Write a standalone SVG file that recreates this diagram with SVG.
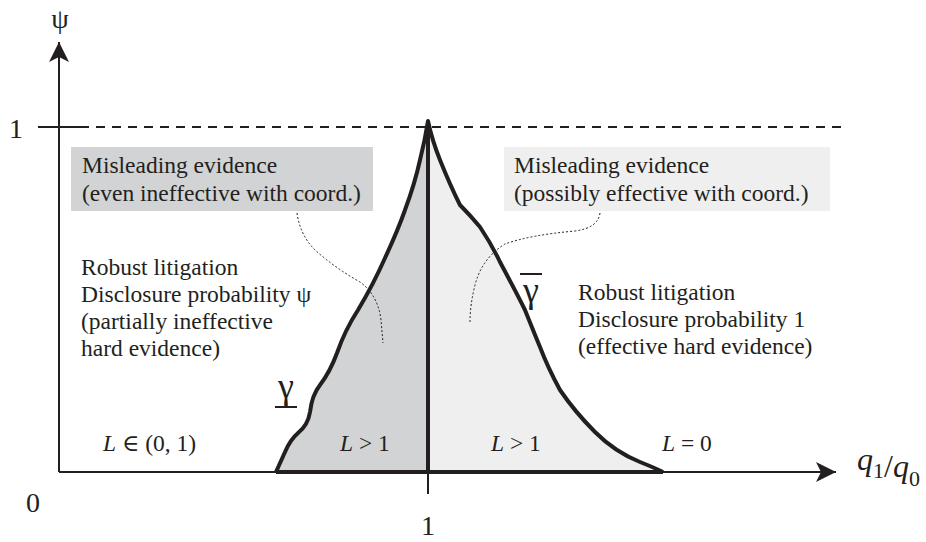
<svg xmlns="http://www.w3.org/2000/svg" width="926" height="542" viewBox="0 0 926 542">
<defs>
<marker id="arr" markerWidth="20" markerHeight="20" refX="20" refY="10" orient="auto" markerUnits="userSpaceOnUse">
<path d="M0,0 L20,10 L0,20 L5,10 Z" fill="#231f20"/>
</marker>
<style>
.lbl{font-size:23.5px;}
.it{font-style:italic;}
.axis{stroke:#231f20;stroke-width:2;fill:none;}
.thick{stroke:#231f20;stroke-width:4;fill:none;stroke-linejoin:round;}
.dot{stroke:#231f20;stroke-width:1;stroke-dasharray:2,2;fill:none;}
</style>
</defs>
<rect width="926" height="542" fill="#fff"/>
<g id="regions">
<path d="M276,472 L285,452 Q290,440 298,433 Q308,425 310,412 Q312,395 320,385 Q330,372 337,353 Q345,330 358,310 Q373,285 385,258 Q398,230 405,210 Q415,183 420,160 Q425,140 428,121 L428,472 Z" fill="#d1d3d4"/>
<path d="M428,121 Q432,140 440,160 Q450,185 460,205 Q470,215 480,227 Q492,245 500,262 Q515,290 525,310 Q535,335 540,347 Q548,368 560,390 Q575,412 595,432 Q615,452 640,462 Q655,468 663,472 L428,472 Z" fill="#efefef"/>
</g>
<g id="axes">
<line class="axis" x1="59" y1="472" x2="59" y2="42" marker-end="url(#arr)"/>
<line class="axis" x1="59" y1="472" x2="836" y2="472" marker-end="url(#arr)"/>
<line class="axis" x1="38" y1="127" x2="80" y2="127"/>
<line class="axis" x1="80" y1="127" x2="848" y2="127" stroke-dasharray="9,7"/>
<line class="axis" x1="428" y1="472" x2="428" y2="494"/>
</g>
<g id="boxes">
<rect x="71" y="147" width="302" height="64" fill="#d1d3d4"/>
<rect x="504" y="147" width="326" height="64" fill="#efefef"/>
</g>
<g id="connectors">
<path class="dot" d="M297,213 Q300,235 315,250 Q335,268 360,282 Q378,295 381,320 L383,343"/>
<path class="dot" d="M600,213 Q598,228 575,231 Q530,235 505,244 Q482,258 475,285 Q470,305 470,322"/>
</g>
<g id="curve">
<path class="thick" d="M276,472 L285,452 Q290,440 298,433 Q308,425 310,412 Q312,395 320,385 Q330,372 337,353 Q345,330 358,310 Q373,285 385,258 Q398,230 405,210 Q415,183 420,160 Q425,140 428,121 Q432,140 440,160 Q450,185 460,205 Q470,215 480,227 Q492,245 500,262 Q515,290 525,310 Q535,335 540,347 Q548,368 560,390 Q575,412 595,432 Q615,452 640,462 Q655,468 663,472"/>
<line class="thick" x1="428" y1="121" x2="428" y2="472"/>
<line class="thick" x1="276" y1="472" x2="663" y2="472"/>
</g>
<g id="labels" font-family="'Liberation Serif', 'DejaVu Serif', serif" fill="#231f20">
<text x="60" y="28" font-size="28" text-anchor="middle">ψ</text>
<text x="16" y="138" font-size="28" text-anchor="middle">1</text>
<text x="33" y="512" font-size="28" text-anchor="middle">0</text>
<text x="428" y="535" font-size="28" text-anchor="middle">1</text>
<text x="857" y="470" font-size="32" class="it">q</text>
<text x="873" y="478" font-size="22">1</text>
<text x="884" y="477" font-size="32">/</text>
<text x="893" y="477" font-size="32" class="it">q</text>
<text x="909" y="486" font-size="22">0</text>
<text class="lbl" x="82" y="173">Misleading evidence</text>
<text class="lbl" x="82" y="201">(even ineffective with coord.)</text>
<text class="lbl" x="514" y="173">Misleading evidence</text>
<text class="lbl" x="514" y="201">(possibly effective with coord.)</text>
<text class="lbl" x="81" y="275">Robust litigation</text>
<text class="lbl" x="81" y="302">Disclosure probability ψ</text>
<text class="lbl" x="81" y="329">(partially ineffective</text>
<text class="lbl" x="81" y="356">hard evidence)</text>
<text class="lbl" x="578" y="300">Robust litigation</text>
<text class="lbl" x="578" y="327">Disclosure probability 1</text>
<text class="lbl" x="578" y="354">(effective hard evidence)</text>
<text x="286" y="398" font-size="36" text-anchor="middle">γ</text>
<line x1="275" y1="407" x2="297" y2="407" stroke="#231f20" stroke-width="2"/>
<text x="531" y="302" font-size="36" text-anchor="middle">γ</text>
<line x1="520" y1="274" x2="542" y2="274" stroke="#231f20" stroke-width="2"/>
<text class="lbl" x="103" y="451"><tspan class="it">L</tspan> ∈ (0, 1)</text>
<text class="lbl" x="340" y="451"><tspan class="it">L</tspan> &gt; 1</text>
<text class="lbl" x="491" y="451"><tspan class="it">L</tspan> &gt; 1</text>
<text class="lbl" x="662" y="451"><tspan class="it">L</tspan> = 0</text>
</g>
</svg>
